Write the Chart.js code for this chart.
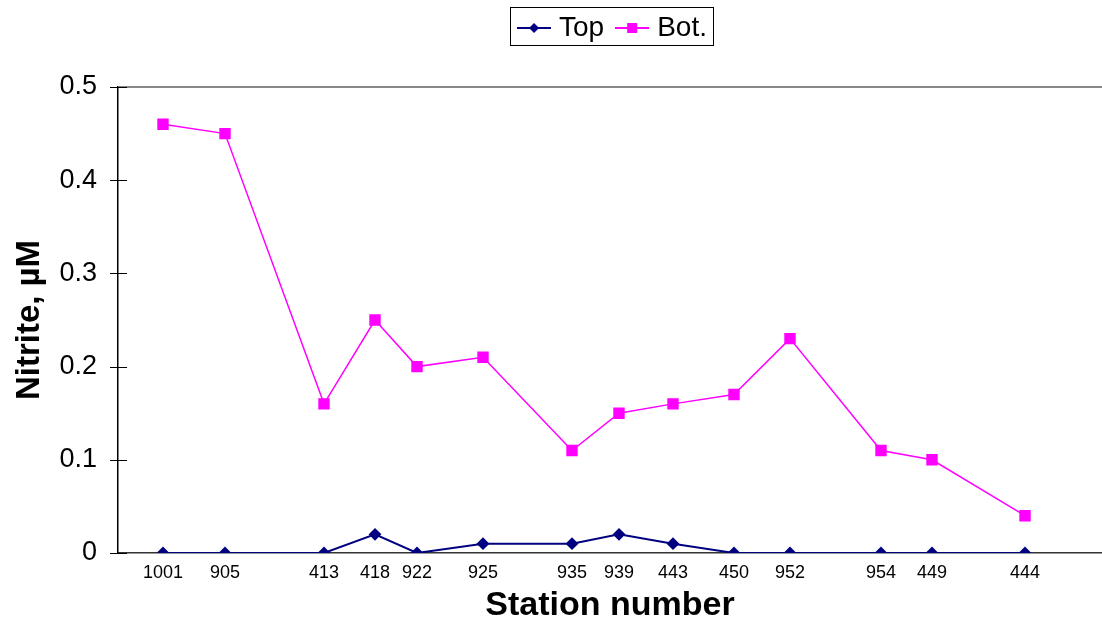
<!DOCTYPE html>
<html>
<head>
<meta charset="utf-8">
<title>Nitrite by station</title>
<script src="https://cdn.jsdelivr.net/npm/chart.js@4.4.1/dist/chart.umd.min.js"></script>
<style>
    body { margin: 0; background: #fff; }
    #wrap { width: 1102px; height: 626px; }
</style>
</head>
<body>
<div id="wrap"><canvas id="nitriteChart" width="1102" height="626"></canvas></div>
<script>
// Stations along the transect (position = distance along the section)
const stations = ['1001', '905', '413', '418', '922', '925', '935', '939', '443', '450', '952', '954', '449', '444'];
const stationPos = [45, 107, 206, 257, 299, 365, 454, 501, 555, 616, 672, 763, 814, 907];
const topValues = [0, 0, 0, 0.02, 0, 0.01, 0.01, 0.02, 0.01, 0, 0, 0, 0, 0];
const botValues = [0.46, 0.45, 0.16, 0.25, 0.20, 0.21, 0.11, 0.15, 0.16, 0.17, 0.23, 0.11, 0.10, 0.04];
const yTicks = [0, 0.1, 0.2, 0.3, 0.4, 0.5];

const FONT = 'Liberation Sans, Arial, Helvetica, sans-serif';
const TOP_COLOR = '#000080';
const BOT_COLOR = '#FF00FF';
const LEGEND_DX = 64;   // legend is centred over the plot area, not the canvas
const LEGEND_DY = -3;

function toPoints(values) {
    return values.map((v, i) => ({ x: stationPos[i], y: v }));
}

// Small legend swatch: a line with the marker in the middle
function makeSwatch(color, style) {
    const c = document.createElement('canvas');
    c.width = 34;
    c.height = 14;
    const ctx = c.getContext('2d');
    ctx.strokeStyle = color;
    ctx.lineWidth = 2;
    ctx.beginPath();
    ctx.moveTo(0, 7);
    ctx.lineTo(34, 7);
    ctx.stroke();
    ctx.fillStyle = color;
    if (style === 'diamond') {
        ctx.beginPath();
        ctx.moveTo(17, 2);
        ctx.lineTo(22, 7);
        ctx.lineTo(17, 12);
        ctx.lineTo(12, 7);
        ctx.closePath();
        ctx.fill();
    } else {
        ctx.fillRect(12, 2, 10, 10);
    }
    return c;
}

const extras = {
    id: 'extras',
    beforeLayout(chart) {
        // reserve the space above the plot area like the original
        const lg = chart.legend;
        if (lg && !lg._patched) {
            const origFit = lg.fit;
            lg.fit = function () {
                origFit.call(this);
                this.height = 87;
            };
            lg._patched = true;
        }
    },
    afterLayout(chart) {
        const lg = chart.legend;
        lg.left += LEGEND_DX;
        lg.right += LEGEND_DX;
        lg.top += LEGEND_DY;
    },
    afterDraw(chart) {
        const ctx = chart.ctx;
        const lg = chart.legend;
        ctx.save();
        ctx.strokeStyle = '#000';
        ctx.lineWidth = 1;
        if (lg && lg.legendHitBoxes && lg.legendHitBoxes.length) {
            const hb = lg.legendHitBoxes;
            const last = hb[hb.length - 1];
            const left = hb[0].left - 13;
            const right = last.left + last.width + 6;
            ctx.strokeRect(Math.round(left) + 0.5, 7.5, Math.round(right - left), 38);
        }
        // inner half of the y tick marks
        const y = chart.scales.y;
        const ax = chart.chartArea.left;
        yTicks.forEach(v => {
            const py = Math.round(y.getPixelForValue(v)) + 0.5;
            ctx.beginPath();
            ctx.moveTo(ax - 8, py);
            ctx.lineTo(ax + 9, py);
            ctx.stroke();
        });
        ctx.restore();
    }
};

const ctx = document.getElementById('nitriteChart').getContext('2d');
const chart = new Chart(ctx, {
    type: 'line',
    data: {
        datasets: [{
            label: 'Top',
            data: toPoints(topValues),
            borderColor: TOP_COLOR,
            backgroundColor: TOP_COLOR,
            borderWidth: 2,
            pointStyle: 'rectRot',
            pointRadius: 5,
            pointHoverRadius: 5,
            tension: 0
        }, {
            label: 'Bot.',
            data: toPoints(botValues),
            borderColor: BOT_COLOR,
            backgroundColor: BOT_COLOR,
            borderWidth: 1.5,
            pointStyle: 'rect',
            pointRadius: 7,
            pointHoverRadius: 7,
            tension: 0
        }]
    },
    options: {
        responsive: false,
        animation: false,
        layout: { padding: 0, autoPadding: false },
        plugins: {
            tooltip: { enabled: false },
            legend: {
                position: 'top',
                labels: {
                    usePointStyle: true,
                    pointStyleWidth: 22,
                    color: '#000',
                    font: { family: FONT, size: 28 },
                    padding: 17,
                    generateLabels: (c) => c.data.datasets.map((ds, i) => ({
                        text: ds.label,
                        datasetIndex: i,
                        pointStyle: makeSwatch(ds.borderColor, i === 0 ? 'diamond' : 'square'),
                        fontColor: '#000',
                        lineWidth: 0,
                        strokeStyle: 'transparent',
                        fillStyle: 'transparent'
                    }))
                }
            }
        },
        scales: {
            x: {
                type: 'linear',
                min: 0,
                max: 984,
                afterBuildTicks: (scale) => {
                    scale.ticks = stationPos.map(v => ({ value: v }));
                },
                afterFit: (scale) => {
                    scale.height = 73;
                    scale.paddingLeft = 0;
                    scale.paddingRight = 0;
                },
                ticks: {
                    autoSkip: false,
                    maxRotation: 0,
                    color: '#000',
                    padding: 9,
                    font: { family: FONT, size: 18 },
                    callback: (value) => {
                        const i = stationPos.indexOf(value);
                        return i >= 0 ? stations[i] : '';
                    }
                },
                grid: { display: false, drawTicks: false },
                border: { display: true, color: '#333', width: 1.5 },
                title: {
                    display: true,
                    text: 'Station number',
                    color: '#000',
                    font: { family: FONT, size: 34, weight: 'bold' },
                    padding: { top: 0, bottom: 0 }
                }
            },
            y: {
                min: 0,
                max: 0.5,
                afterBuildTicks: (scale) => {
                    scale.ticks = yTicks.map(v => ({ value: v }));
                },
                afterFit: (scale) => {
                    scale.width = 118;
                    scale.paddingTop = 0;
                    scale.paddingBottom = 0;
                },
                ticks: {
                    color: '#000',
                    padding: 21,
                    font: { family: FONT, size: 27 },
                    callback: (v) => String(v)
                },
                grid: {
                    drawTicks: false,
                    color: (c) => c.tick && c.tick.value === 0.5 ? '#888' : 'transparent',
                    lineWidth: 2
                },
                border: { display: true, color: '#000', width: 1.5 },
                title: {
                    display: true,
                    text: 'Nitrite, µM',
                    color: '#000',
                    font: { family: FONT, size: 33, weight: 'bold' },
                    padding: { top: 10, bottom: 0 }
                }
            }
        }
    },
    plugins: [extras]
});
</script>
</body>
</html>
